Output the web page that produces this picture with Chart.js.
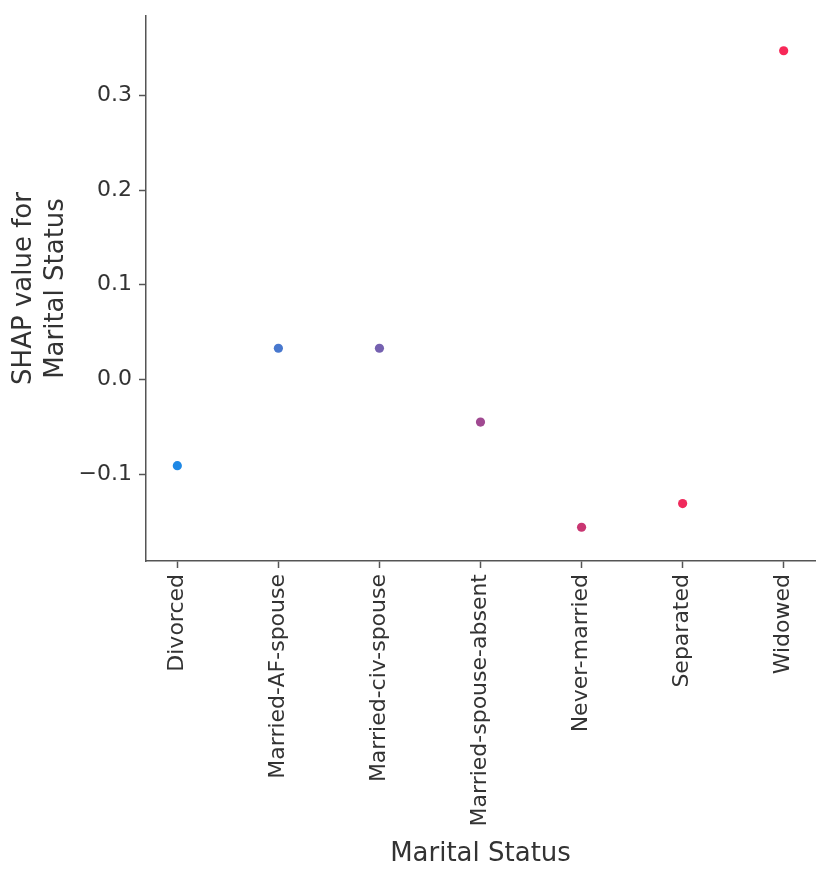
<!DOCTYPE html>
<html>
<head>
<meta charset="utf-8">
<script src="https://cdn.jsdelivr.net/npm/chart.js@4/dist/chart.umd.min.js"></script>
<style>
  html, body { margin: 0; padding: 0; background: #fff; }
  #wrap { width: 833px; height: 884px; }
</style>
</head>
<body>
<div id="wrap"><canvas id="chart" width="833" height="884"></canvas></div>
<script>
// categorias do eixo x
const categories = ["Divorced", "Married-AF-spouse", "Married-civ-spouse", "Married-spouse-absent", "Never-married", "Separated", "Widowed"];
// valores SHAP
const shapValues = [-0.091, 0.033, 0.033, -0.045, -0.156, -0.131, 0.347];
const yTicks = [-0.1, 0.0, 0.1, 0.2, 0.3];
// cor de cada ponto (azul -> vermelho)
const pointColors = ["#1E88E5", "#4878CE", "#7561B0", "#A04991", "#C93672", "#F02A5C", "#F72858"];

const axisColor = "#555";
const textColor = "#333";
const font = "DejaVu Sans";

const points = categories.map((c, i) => ({ x: i, y: shapValues[i] }));

new Chart(document.getElementById("chart"), {
    type: "scatter",
    data: {
        datasets: [{
            data: points,
            backgroundColor: pointColors,
            borderWidth: 0,
            pointRadius: 4.6,
            pointHoverRadius: 4.6
        }]
    },
    options: {
        responsive: false,
        devicePixelRatio: 1,
        animation: false,
        layout: { padding: { top: 16, right: 18, left: 0, bottom: 0 } },
        plugins: { legend: { display: false }, tooltip: { enabled: false } },
        scales: {
            x: {
                type: "linear",
                min: -0.31,
                max: 6.31,
                border: { display: true, color: axisColor, width: 1.5 },
                grid: { drawOnChartArea: false, drawTicks: true, tickLength: 7, tickColor: axisColor, tickWidth: 1.5 },
                afterBuildTicks: (s) => { s.ticks = categories.map((c, i) => ({ value: i })); },
                afterFit: (s) => { s.height = 884 - 561; s.paddingLeft = 0; s.paddingRight = 0; },
                ticks: {
                    autoSkip: false,
                    minRotation: 90,
                    maxRotation: 90,
                    padding: 6,
                    color: textColor,
                    font: { family: font, size: 22 },
                    callback: (v) => categories[v]
                },
                title: {
                    display: true,
                    text: "Marital Status",
                    color: textColor,
                    font: { family: font, size: 26 },
                    padding: { top: 0, bottom: 14 }
                }
            },
            y: {
                min: -0.1916,
                max: 0.3837,
                border: { display: true, color: axisColor, width: 1.5 },
                grid: { drawOnChartArea: false, drawTicks: true, tickLength: 7, tickColor: axisColor, tickWidth: 1.5 },
                afterBuildTicks: (s) => { s.ticks = yTicks.map(v => ({ value: v })); },
                afterFit: (s) => { s.width = 146; s.paddingTop = 0; s.paddingBottom = 0; },
                ticks: {
                    padding: 7,
                    color: textColor,
                    font: { family: font, size: 22 },
                    callback: (v) => v.toFixed(1).replace("-", "\u2212")
                },
                title: {
                    display: true,
                    text: ["SHAP value for", "Marital Status"],
                    color: textColor,
                    font: { family: font, size: 26 },
                    padding: { top: 9, bottom: 0 }
                }
            }
        }
    }
});
</script>
</body>
</html>
